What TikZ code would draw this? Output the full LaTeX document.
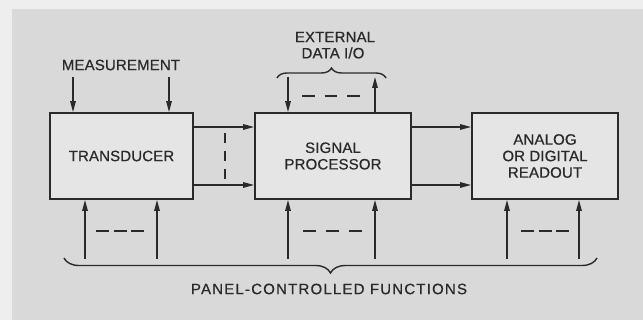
\documentclass[tikz,border=0pt]{standalone}
\usepackage{fontspec}
\setmainfont{Liberation Sans}
\newfontfamily\lbl[LetterSpace=1,FakeBold=0.6]{Liberation Sans}
\newfontfamily\lblwide[LetterSpace=8,FakeBold=0.6]{Liberation Sans}
\usetikzlibrary{arrows.meta,decorations.pathreplacing}
\definecolor{outerbg}{HTML}{EEEEEE}
\definecolor{panelbg}{HTML}{D9D9D9}
\definecolor{boxbg}{HTML}{E5E5E5}
\definecolor{ink}{HTML}{2A2A2A}
\tikzset{
  blockbox/.style={draw=ink,line width=1.8pt,fill=boxbg,inner sep=0pt,
    text=ink,font=\lbl\fontsize{15}{16.5}\selectfont,align=center},
  lbltext/.style={text=ink,font=\lbl\fontsize{15}{16.5}\selectfont,align=center,inner sep=0pt},
  arr/.style={draw=ink,line width=1.4pt,-{Triangle[length=11pt,width=5.5pt]}},
  dashline/.style={draw=ink,line width=1.4pt,dash pattern=on 13pt off 4.5pt},
  widedash/.style={draw=ink,line width=1.4pt,dash pattern=on 13pt off 10pt},
  bracestyle/.style={draw=ink,line width=1.4pt,decorate}
}
\begin{document}
\begin{tikzpicture}[x=1pt,y=-1pt]
\useasboundingbox (0,0) rectangle (643,320);
\fill[outerbg] (0,0) rectangle (643,320);
\fill[panelbg] (12,9) rectangle (643,320);
% blocks
\node[blockbox,minimum width=143pt,minimum height=86pt] (trans) at (121.5,156) {TRANSDUCER};
\node[blockbox,minimum width=156pt,minimum height=86pt] (proc) at (333,156) {SIGNAL\\PROCESSOR};
\node[blockbox,minimum width=146pt,minimum height=86pt] (read) at (545,156) {ANALOG\\OR DIGITAL\\READOUT};
% labels
\node[lbltext] (meas) at (121,65) {MEASUREMENT};
\node[lbltext] (ext) at (335,37) {EXTERNAL};
\node[lbltext] (dio) at (333,53) {DATA I/O};
\node[lbltext,font=\lblwide\fontsize{15}{16.5}\selectfont] (panel) at (329,289) {PANEL-CONTROLLED FUNCTIONS};
% measurement inputs
\coordinate (m1) at (73,77);
\coordinate (m2) at (169,77);
\draw[arr] (m1) -- (m1 |- trans.north);
\draw[arr] (m2) -- (m2 |- trans.north);
% external data I/O
\coordinate (e1) at (288,77);
\coordinate (e2) at (375,77);
\draw[arr] (e1) -- (e1 |- proc.north);
\draw[arr] (e2 |- proc.north) -- (e2);
\draw[widedash,dash pattern=on 12.5pt off 10pt] (302,96) -- (360,96);
\draw[bracestyle,decoration={brace,amplitude=10pt}] (277,78) -- (386,78);
% transducer -> processor
\coordinate (t1) at (193,127);
\coordinate (t2) at (193,185);
\draw[arr] (t1 -| trans.east) -- (t1 -| proc.west);
\draw[arr] (t2 -| trans.east) -- (t2 -| proc.west);
\draw[draw=ink,line width=1.4pt,dash pattern=on 10pt off 8pt] (225,133) -- (225,181);
% processor -> readout
\draw[arr] (t1 -| proc.east) -- (t1 -| read.west);
\draw[arr] (t2 -| proc.east) -- (t2 -| read.west);
% panel-controlled inputs
\foreach \n/\x/\b in {p1/85/trans,p2/157/trans,p3/288/proc,p4/375/proc,p5/507/read,p6/579/read}{
  \coordinate (\n) at (\x,259);
  \draw[arr] (\n) -- (\n |- \b.south);
}
\draw[dashline] (96,231) -- (144,231);
\draw[widedash] (303,231) -- (362,231);
\draw[dashline] (521,231) -- (569,231);
\draw[bracestyle,decoration={brace,amplitude=15pt}] (597,258) -- (64,258);
\end{tikzpicture}
\end{document}
